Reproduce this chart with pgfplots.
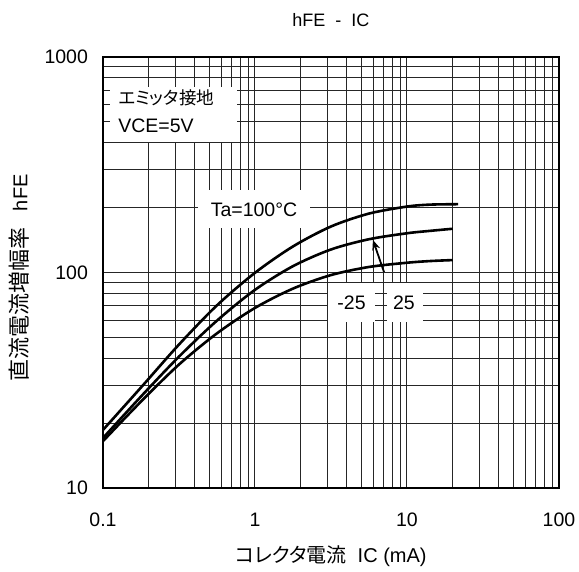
\documentclass[border=0pt]{standalone}
\usepackage{fontspec}
\setmainfont{Liberation Sans}
\newfontfamily\jp[RawFeature=+palt]{Noto Sans CJK JP}
\usepackage{pgfplots}
\pgfplotsset{compat=1.18}
\usetikzlibrary{arrows.meta}

\begin{document}
\begin{tikzpicture}
\begin{axis}[
    name=ax,
    scale only axis,
    width=228pt,
    height=215.5pt,
    xmode=log, ymode=log,
    xmin=0.1, xmax=100,
    ymin=10, ymax=1000,
    xtick={0.1,1,10,100},
    xticklabels={0.1,1,10,100},
    ytick={10,100,1000},
    yticklabels={10,100,1000},
    minor xtick={0.2,0.3,0.4,0.5,0.6,0.7,0.8,0.9,2,3,4,5,6,7,8,9,20,30,40,50,60,70,80,90},
    minor ytick={20,30,40,50,60,70,80,90,200,300,400,500,600,700,800,900},
    grid=both,
    major grid style={black!85, line width=0.5pt},
    minor grid style={black!85, line width=0.5pt},
    major tick length=0pt, minor tick length=0pt,
    axis line style={line width=1.3pt},
    tick label style={font=\fontsize{9.75}{11}\selectfont},
    xticklabel style={yshift=-9pt},
    yticklabel style={xshift=-4pt},
    /pgf/number format/assume math mode=true,
    every axis title shift=0pt,
    title={hFE\ \ -\ \ IC},
    title style={at={(axis description cs:0.5,1.0858)}, anchor=center, font=\fontsize{9}{11}\selectfont},
    xlabel={{\jp\fontsize{10}{11}\selectfont コレクタ電流}\ \ IC (mA)},
    xlabel style={at={(axis description cs:0.5,-0.1578)}, anchor=center, font=\fontsize{10}{11}\selectfont},
    ylabel={{\jp\fontsize{11}{12}\selectfont 直流電流増幅率}\ \ \ hFE},
    ylabel style={at={(axis description cs:-0.1842,0.487)}, anchor=center, font=\fontsize{10}{11}\selectfont},
    clip=false,
    ]
    % Ta = 100 C
    \addplot[black, line width=1.3pt, smooth] coordinates {
        (0.1,18.6) (0.178,29.3) (0.316,46.3) (0.562,70.4) (1,99.7) (1.778,132.1)
        (3.162,163.5) (5.623,187.7) (10,202.3) (14.13,206.5) (21.7,207.5)};
    % Ta = 25 C
    \addplot[black, line width=1.3pt, smooth] coordinates {
        (0.1,17.06) (0.178,26.6) (0.316,40.7) (0.562,59.8) (1,83.1) (1.778,107.0)
        (3.162,127.9) (5.623,142.7) (10,152.1) (14.13,156.0) (20,159.6)};
    % Ta = -25 C
    \addplot[black, line width=1.3pt, smooth] coordinates {
        (0.1,16.5) (0.178,25.2) (0.316,37.4) (0.562,52.2) (1,68.5) (1.778,84.2)
        (3.162,97.3) (5.623,106.1) (10,111.0) (14.13,113.0) (20,114.2)};

    % text boxes
    \fill[white] (rel axis cs:0.0154,0.9304) rectangle (rel axis cs:0.2939,0.8028);
    \node[anchor=west, inner sep=0pt, font=\fontsize{8.8}{11}\selectfont] at (rel axis cs:0.0329,0.9049) {\jp エミッタ接地};
    \node[anchor=west, inner sep=0pt, font=\fontsize{9.75}{11}\selectfont] at (rel axis cs:0.0329,0.8399) {VCE=5V};

    \fill[white] (rel axis cs:0.2083,0.6914) rectangle (rel axis cs:0.4539,0.6032);
    \node[inner sep=0pt, font=\fontsize{9.75}{11}\selectfont] at (rel axis cs:0.3311,0.6450) {Ta=100°C};

    \fill[white] (rel axis cs:0.4934,0.4756) rectangle (rel axis cs:0.5965,0.3852);
    \node[inner sep=0pt, font=\fontsize{9.75}{11}\selectfont] at (rel axis cs:0.5450,0.4304) {-25};
    \fill[white] (rel axis cs:0.6228,0.4756) rectangle (rel axis cs:0.7018,0.3852);
    \node[inner sep=0pt, font=\fontsize{9.75}{11}\selectfont] at (rel axis cs:0.6601,0.4304) {25};

    \draw[line width=0.9pt, -{Stealth[length=5pt,width=4pt]}] (axis cs:7.06,100.5) -- (axis cs:5.97,141.6);
\end{axis}
\pgfresetboundingbox
\path[use as bounding box] ([xshift=-51.5pt,yshift=-41.5pt]ax.south west) rectangle ([xshift=10pt,yshift=28.5pt]ax.north east);
\end{tikzpicture}
\end{document}
